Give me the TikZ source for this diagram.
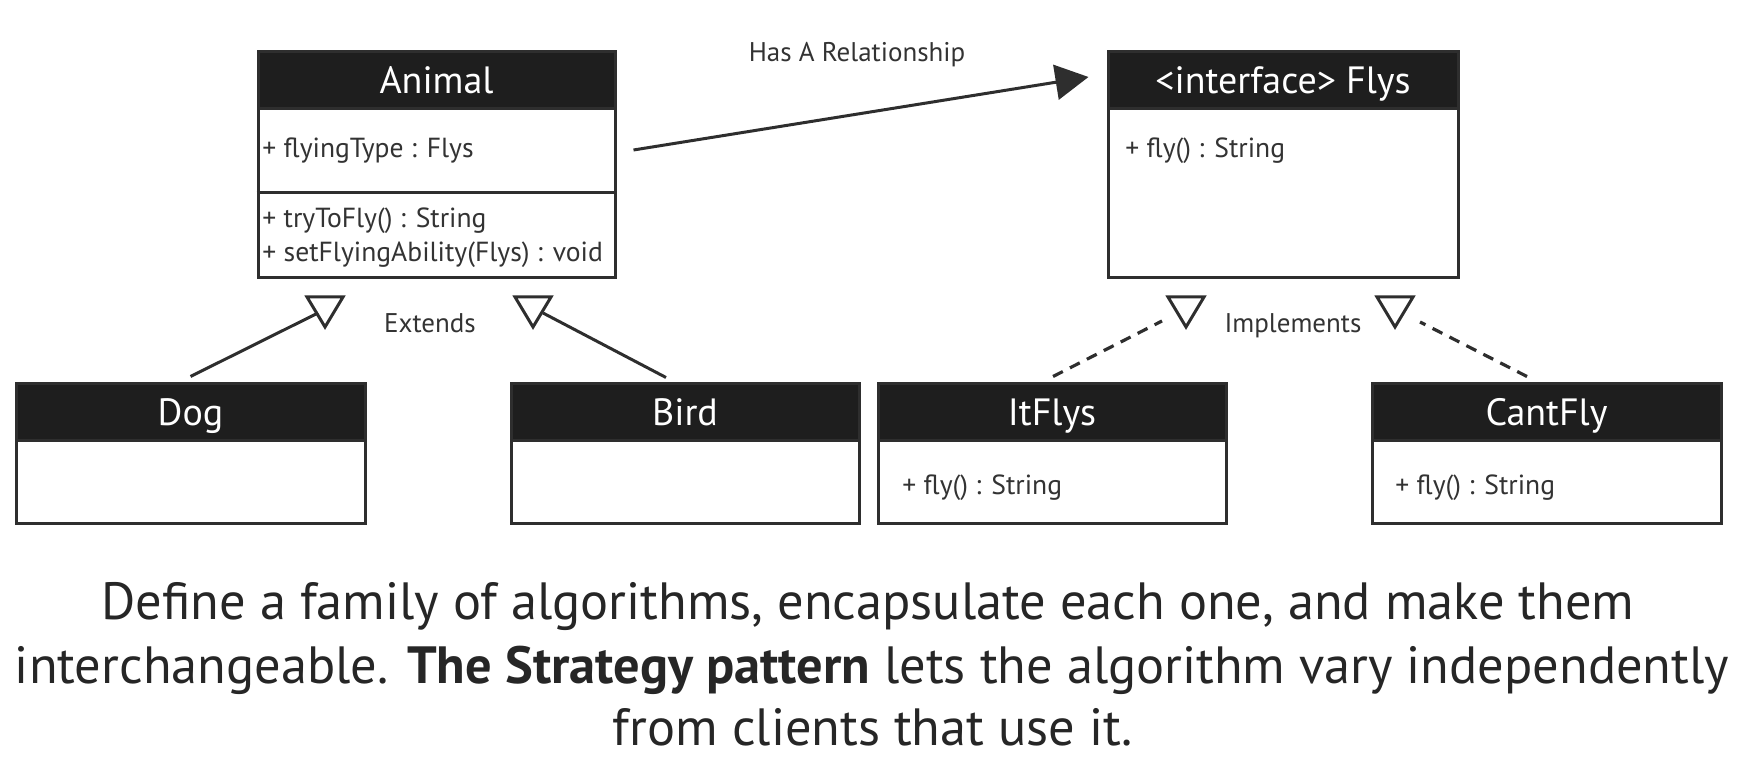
\documentclass[tikz,border=0pt]{standalone}
\usepackage{fontspec}
\setmainfont{PT Sans}
\usetikzlibrary{arrows.meta,calc}
\definecolor{hdrfill}{HTML}{1E1E1E}
\definecolor{linecol}{HTML}{2E2E2E}
\definecolor{txtcol}{HTML}{333333}
\definecolor{captcol}{HTML}{262626}
\begin{document}
\begin{tikzpicture}[x=0.5pt,y=-0.5pt,
 box/.style={draw=linecol, line width=1.5pt, fill=white, inner sep=0pt},
 hdr/.style={draw=linecol, line width=1.5pt, fill=hdrfill, text=white, inner sep=0pt,
   minimum height=28.5pt, text height=13.3pt, text depth=0pt,
   font=\fontsize{19}{22}\selectfont, anchor=north},
 member/.style={anchor=base west, inner sep=0pt, text=txtcol, font=\fontsize{13.8}{16}\selectfont},
 lbl/.style={anchor=base, inner sep=0pt, text=txtcol, font=\fontsize{13.5}{16}\selectfont},
 assoc/.style={draw=linecol, line width=1.5pt, -{Triangle[length=16.5pt,width=17.5pt]}},
 gen/.style={draw=linecol, line width=1.5pt, line join=miter},
 real/.style={draw=linecol, line width=1.6pt, dash pattern=on 5.5pt off 4pt},
 caption/.style={anchor=base, inner sep=0pt, text=captcol, font=\fontsize{26.2}{31}\selectfont}]
\useasboundingbox (0,0) rectangle (1761,763);

% ---- Animal
\node[box, minimum width=178.5pt, minimum height=113pt] (animal) at (436.5,165) {};
\node[hdr, minimum width=178.5pt] (animalH) at (animal.north) {Animal};
\draw[gen] (animal.west |- 0,193) -- (animal.east |- 0,193);
\node[member] (animalA) at (262,158) {+ flyingType : Flys};
\node[member] (animalM1) at (262,228) {+ tryToFly() : String};
\node[member] (animalM2) at (262,262) {+ setFlyingAbility(Flys) : void};

% ---- Flys
\node[box, minimum width=175pt, minimum height=113pt] (flys) at (1283,165) {};
\node[hdr, minimum width=175pt] (flysH) at (flys.north) {<interface> Flys};
\node[member] (flysM) at (1125,158) {+ fly() : String};

% ---- Dog, Bird, ItFlys, CantFly
\node[box, minimum width=174.5pt, minimum height=70pt] (dog) at (190.5,454) {};
\node[hdr, minimum width=174.5pt] (dogH) at (dog.north) {Dog};
\node[box, minimum width=174pt, minimum height=70pt] (bird) at (685,454) {};
\node[hdr, minimum width=174pt] (birdH) at (bird.north) {Bird};
\node[box, minimum width=174pt, minimum height=70pt] (itflys) at (1052,454) {};
\node[hdr, minimum width=174pt] (itflysH) at (itflys.north) {ItFlys};
\node[member] (itflysM) at (902,495) {+ fly() : String};
\node[box, minimum width=174.5pt, minimum height=70pt] (cantfly) at (1546.5,454) {};
\node[hdr, minimum width=174.5pt] (cantflyH) at (cantfly.north) {CantFly};
\node[member] (cantflyM) at (1395,495) {+ fly() : String};

% ---- Has-a association
\draw[assoc] ([shift={(17,-15)}]animal.east) -- ([shift={(-18,-88)}]flys.west);
\node[lbl] (hasa) at (857,62) {Has A Relationship};

% ---- generalisation triangles
\draw[gen] (307,297) -- (343,297) -- (325,327) -- cycle;
\draw[gen] (515,297) -- (551,297) -- (533,327) -- cycle;
\draw[gen] (1168,297) -- (1204,297) -- (1186,327) -- cycle;
\draw[gen] (1377,297) -- (1413,297) -- (1395,327) -- cycle;
\coordinate (extL) at (318,313);
\coordinate (extR) at (543,313);
\coordinate (impL) at (1162,321);
\coordinate (impR) at (1420,322);

\draw[gen] ([shift={(0,-6)}]dog.north) -- (extL);
\draw[gen] ([shift={(-19,-5)}]bird.north) -- (extR);
\draw[real] ([shift={(1,-6)}]itflys.north) -- (impL);
\draw[real] ([shift={(-19.5,-6)}]cantfly.north) -- (impR);
\node[lbl] (extends) at (430,333) {Extends};
\node[lbl] (implements) at (1293,333) {Implements};

% ---- caption
\node[caption] (cap1) at (868,620) {Define a family of algorithms, encapsulate each one, and make them};
\node[caption] (cap2) at (872,683) {interchangeable. \textbf{The Strategy pattern} lets the algorithm vary independently};
\node[caption] (cap3) at (873,746) {from clients that use it.};
\end{tikzpicture}
\end{document}
